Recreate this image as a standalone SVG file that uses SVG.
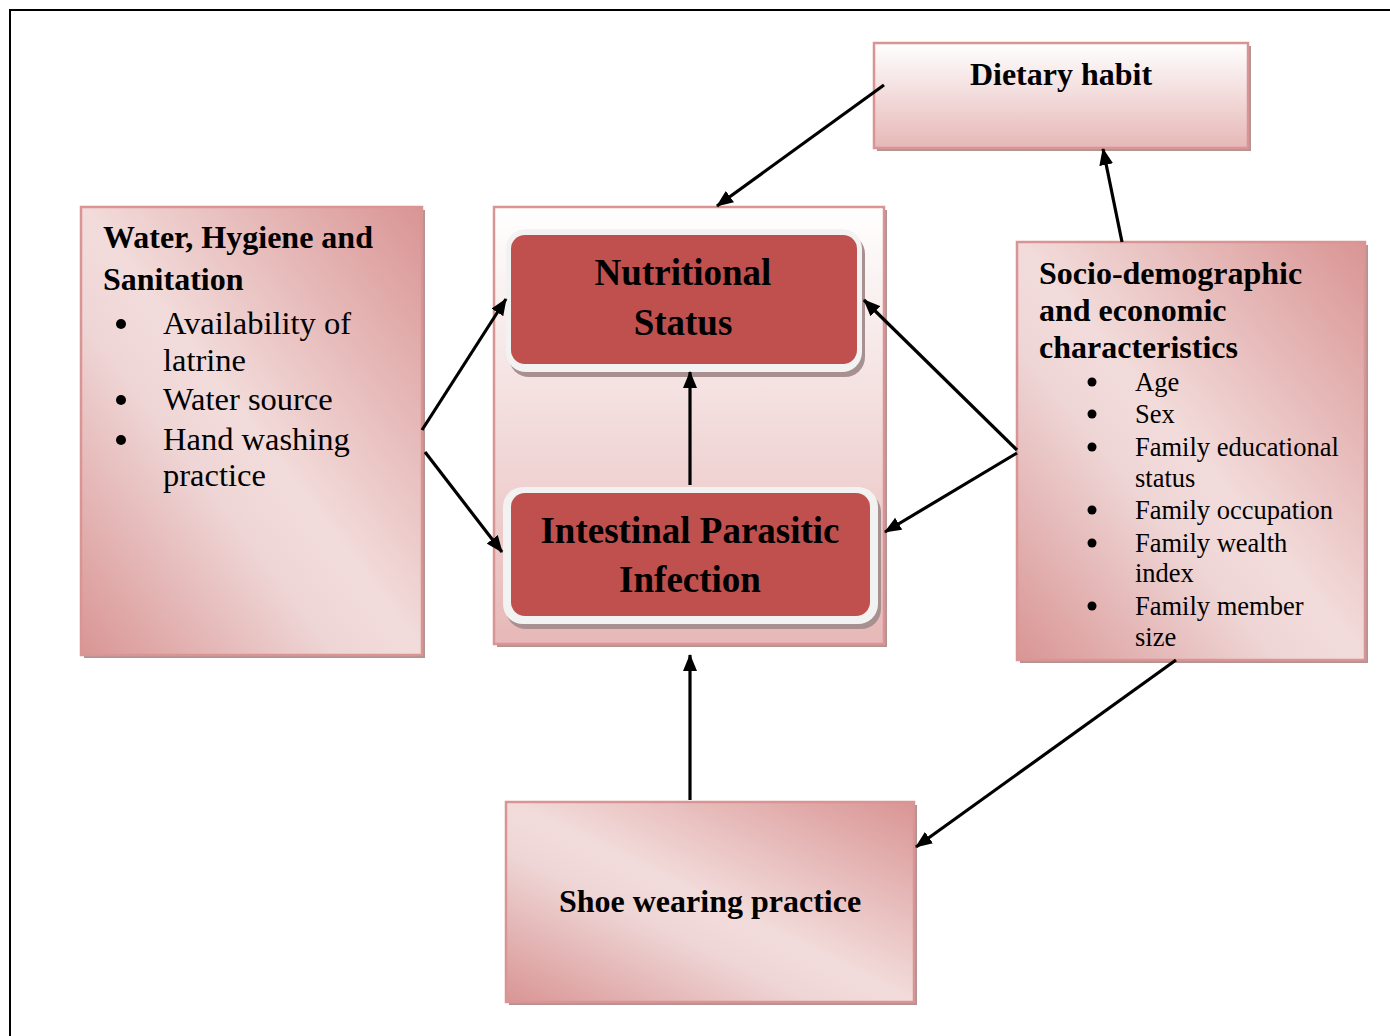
<svg xmlns="http://www.w3.org/2000/svg" width="1390" height="1036" viewBox="0 0 1390 1036">
<style>
.t{font-family:"Liberation Serif","Times New Roman",serif;fill:#000}
.b{font-weight:bold}
.box{stroke:#d99594;stroke-width:2.5}
.sh{fill:#b39393}
.conn{stroke:#000;stroke-width:3.2;fill:none;marker-end:url(#ah)}
</style>
<defs>
<linearGradient id="diag" x1="1" y1="0" x2="0" y2="1">
<stop offset="0" stop-color="#d99594"/>
<stop offset="0.5" stop-color="#f2dcdb"/>
<stop offset="0.62" stop-color="#efd6d6"/>
<stop offset="1" stop-color="#d99594"/>
</linearGradient>
<linearGradient id="vert" x1="0" y1="0" x2="0" y2="1">
<stop offset="0" stop-color="#ffffff"/>
<stop offset="1" stop-color="#e6b8b7"/>
</linearGradient>
<marker id="ah" markerUnits="userSpaceOnUse" markerWidth="18" markerHeight="14" refX="16" refY="7" orient="auto">
<path d="M0,0 L17,7 L0,14 Z" fill="#000"/>
</marker>
</defs>
<rect x="10" y="10" width="1400" height="1100" fill="none" stroke="#000" stroke-width="2"/>

<g id="dietary">
<rect class="sh" x="877" y="46" width="374" height="105"/>
<rect class="box" x="874" y="43" width="374" height="105" fill="url(#vert)"/>
<text class="t b" x="1061" y="85" font-size="32" text-anchor="middle">Dietary habit</text>
</g>

<g id="wash">
<rect class="sh" x="84" y="210" width="341" height="448"/>
<rect class="box" x="81" y="207" width="341" height="448" fill="url(#diag)"/>
<text class="t b" font-size="32"><tspan x="103" y="248">Water, Hygiene and</tspan><tspan x="103" y="290">Sanitation</tspan></text>
<g class="t" font-size="32.5">
<circle cx="121" cy="324" r="5"/><circle cx="121" cy="400" r="5"/><circle cx="121" cy="440" r="5"/>
<text x="163" y="334">Availability of</text>
<text x="163" y="371">latrine</text>
<text x="163" y="410">Water source</text>
<text x="163" y="450">Hand washing</text>
<text x="163" y="486">practice</text>
</g>
</g>

<g id="center">
<rect class="sh" x="497" y="210" width="390" height="437"/>
<rect class="box" x="494" y="207" width="390" height="437" fill="url(#vert)"/>
</g>

<g id="nutritional">
<rect x="509" y="234" width="356" height="143" rx="20" fill="#a99090"/>
<rect x="506" y="229" width="356" height="143" rx="20" fill="#f2f2f2"/>
<rect x="511" y="235" width="346" height="129" rx="14" fill="#c0504d"/>
<text class="t b" font-size="37" text-anchor="middle"><tspan x="683" y="285">Nutritional</tspan><tspan x="683" y="335">Status</tspan></text>
</g>

<g id="ipi">
<rect x="506" y="492" width="375" height="137" rx="20" fill="#a99090"/>
<rect x="503" y="487" width="375" height="137" rx="20" fill="#f2f2f2"/>
<rect x="511" y="493" width="359" height="123" rx="14" fill="#c0504d"/>
<text class="t b" font-size="37" text-anchor="middle"><tspan x="690" y="543">Intestinal Parasitic</tspan><tspan x="690" y="592">Infection</tspan></text>
</g>

<g id="socio">
<rect class="sh" x="1020" y="245" width="348" height="418"/>
<rect class="box" x="1017" y="242" width="348" height="418" fill="url(#diag)"/>
<text class="t b" font-size="32"><tspan x="1039" y="284">Socio-demographic</tspan><tspan x="1039" y="321">and economic</tspan><tspan x="1039" y="358">characteristics</tspan></text>
<g class="t" font-size="26.5">
<circle cx="1092" cy="382" r="4.5"/><circle cx="1092" cy="414" r="4.5"/><circle cx="1092" cy="447" r="4.5"/><circle cx="1092" cy="510" r="4.5"/><circle cx="1092" cy="543" r="4.5"/><circle cx="1092" cy="606" r="4.5"/>
<text x="1135" y="391">Age</text>
<text x="1135" y="423">Sex</text>
<text x="1135" y="456">Family educational</text>
<text x="1135" y="487">status</text>
<text x="1135" y="519">Family occupation</text>
<text x="1135" y="552">Family wealth</text>
<text x="1135" y="582">index</text>
<text x="1135" y="615">Family member</text>
<text x="1135" y="646">size</text>
</g>
</g>

<g id="shoe">
<rect class="sh" x="509" y="805" width="408" height="200"/>
<rect class="box" x="506" y="802" width="408" height="200" fill="url(#diag)"/>
<text class="t b" x="710" y="912" font-size="32" text-anchor="middle">Shoe wearing practice</text>
</g>

<g id="connectors">
<line class="conn" x1="884" y1="85" x2="717" y2="206"/>
<line class="conn" x1="1122" y1="242" x2="1103" y2="149"/>
<line class="conn" x1="422" y1="430" x2="506" y2="299"/>
<line class="conn" x1="425" y1="452" x2="502" y2="552"/>
<line class="conn" x1="690" y1="485" x2="690" y2="372"/>
<line class="conn" x1="1017" y1="450" x2="864" y2="300"/>
<line class="conn" x1="1017" y1="453" x2="885" y2="532"/>
<line class="conn" x1="690" y1="800" x2="690" y2="655" stroke-width="3.6"/>
<line class="conn" x1="1176" y1="660" x2="916" y2="847" stroke-width="3.6"/>
</g>
</svg>
